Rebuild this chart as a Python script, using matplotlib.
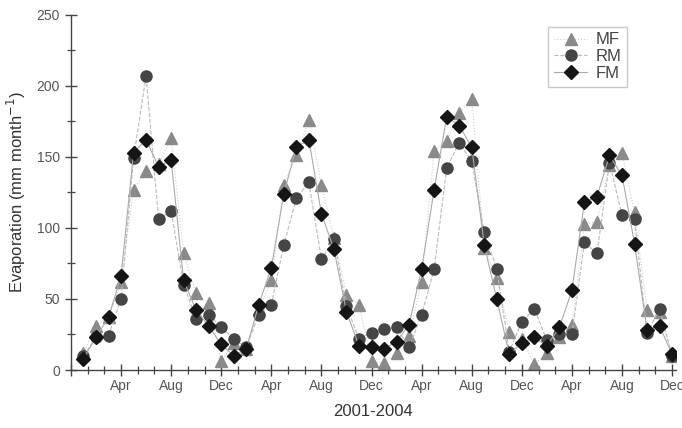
import matplotlib
matplotlib.use("Agg")
from matplotlib import pyplot as plt
import numpy as np

plt.rcParams['font.family'] = ['Liberation Sans', 'DejaVu Sans']

# month index: 1 = Jan 2001 ... 48 = Dec 2004
months = np.arange(1, 49)

mf = [12, 31, 37, 62, 127, 140, 145, 163, 82, 54, 47, 6,
      19, 15, 43, 63, 130, 151, 176, 130, 93, 53, 46, 6,
      5, 12, 24, 62, 154, 161, 181, 191, 86, 65, 27, 22,
      4, 12, 23, 32, 103, 104, 144, 153, 111, 42, 41, 10]
rm = [10, 23, 24, 50, 149, 207, 106, 112, 60, 36, 39, 30,
      22, 16, 39, 46, 88, 121, 132, 78, 92, 45, 22, 26,
      29, 30, 16, 39, 71, 142, 160, 147, 97, 71, 13, 34,
      43, 21, 25, 25, 90, 82, 146, 109, 106, 26, 43, 10]
fm = [8, 23, 37, 66, 153, 162, 143, 148, 63, 42, 31, 18,
      10, 15, 46, 72, 124, 157, 162, 110, 85, 41, 17, 16,
      15, 20, 32, 71, 127, 178, 172, 157, 88, 50, 11, 19,
      23, 17, 30, 56, 118, 122, 151, 137, 89, 28, 31, 11]

tick_labels = ["", "Apr", "Aug", "Dec"] + ["Apr", "Aug", "Dec"] * 3

fig = plt.figure(figsize=(6.82, 4.28), dpi=100)
ax = fig.add_axes([0.104, 0.1355, 0.887, 0.83])

ax.plot(months, mf, linestyle=":", color="#cccccc", linewidth=0.8,
        marker="^", markersize=8, markerfacecolor="#8a8a8a",
        markeredgecolor="#8a8a8a", label="MF")
ax.plot(months, rm, linestyle="--", color="#bbbbbb", linewidth=0.8,
        marker="o", markersize=8, markerfacecolor="#454545",
        markeredgecolor="#454545", label="RM")
ax.plot(months, fm, linestyle="-", color="#aaaaaa", linewidth=0.8,
        marker="D", markersize=7, markerfacecolor="#151515",
        markeredgecolor="#151515", label="FM")

ax.set_xlim(0, 48.3)
ax.set_ylim(0, 250)

ax.set_xticks(np.arange(0, 49, 4))
ax.set_xticklabels(tick_labels)
ax.set_xticks(np.arange(0, 48.3, 4 / 3), minor=True)
ax.set_yticks(np.arange(0, 251, 50))
ax.set_yticks(np.arange(0, 251, 25), minor=True)

for s in ["top", "right"]:
    ax.spines[s].set_visible(False)
for s in ["left", "bottom"]:
    ax.spines[s].set_color("#444444")
    ax.spines[s].set_linewidth(1.0)

ax.tick_params(which="major", direction="inout", length=9, width=1.0,
               color="#444444", labelsize=10, labelcolor="#555555")
ax.tick_params(which="minor", direction="inout", length=6, width=0.9,
               color="#444444")
ax.tick_params(axis="x", which="major", pad=2)

ax.set_xlabel("2001-2004", fontsize=12, color="#333333", labelpad=8)
ax.set_ylabel("Evaporation (mm month$^{-1}$)", fontsize=12, color="#333333",
              labelpad=6)

leg = ax.legend(loc="upper left", bbox_to_anchor=(0.775, 0.99), fontsize=12,
                frameon=True, fancybox=False, edgecolor="#bbbbbb",
                handlelength=2.0, labelspacing=0.1, borderpad=0.35,
                handletextpad=0.5)
for t in leg.get_texts():
    t.set_color("#444444")

plt.savefig("out.png", dpi=100)
